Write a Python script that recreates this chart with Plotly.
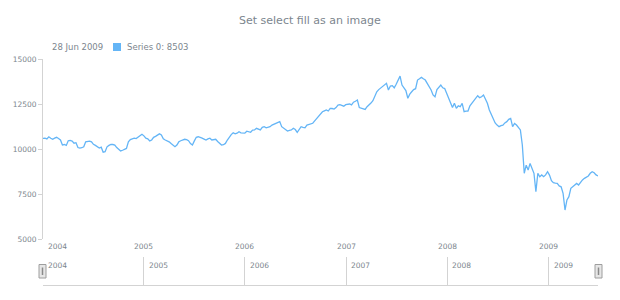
import pandas as pd
import plotly.graph_objects as go

# ---- data (weekly values) ----
values_2004 = [10594, 10600, 10560, 10680, 10600, 10540, 10600, 10650, 10580, 10500,
               10220, 10250, 10200, 10460, 10480, 10440, 10320, 10350, 10080, 10050,
               10070, 10120, 10400, 10420, 10440, 10400, 10260, 10200, 10130, 10050,
               10100, 9820, 9850, 10120, 10200, 10260, 10250, 10220, 10080, 10000,
               9890, 9930, 9960, 10030, 10400, 10520, 10560, 10600, 10580, 10650,
               10740, 10820]
values_2005 = [10730, 10600, 10560, 10450, 10500, 10650, 10700, 10750, 10840, 10780,
               10570, 10500, 10460, 10400, 10300, 10200, 10130, 10220, 10400, 10460,
               10500, 10540, 10520, 10460, 10300, 10220, 10450, 10650, 10680, 10620,
               10600, 10550, 10500, 10560, 10600, 10500, 10520, 10540, 10420, 10300,
               10220, 10240, 10310, 10500, 10690, 10800, 10900, 10840, 10880, 10960,
               10900, 10880]
values_2006 = [10880, 10990, 10950, 10930, 11050, 11060, 11150, 11100, 11060, 11200,
               11240, 11180, 11200, 11240, 11330, 11380, 11430, 11500, 11520, 11240,
               11150, 11100, 11000, 11040, 11060, 11150, 11080, 10930, 11100, 11240,
               11200, 11180, 11330, 11370, 11400, 11430, 11560, 11700, 11850, 11930,
               12070, 12120, 12170, 12110, 12260, 12250, 12220, 12300, 12440, 12460,
               12400, 12380]
values_2007 = [12460, 12480, 12500, 12450, 12600, 12650, 12720, 12300, 12280, 12260,
               12200, 12350, 12440, 12550, 12680, 12900, 13180, 13300, 13380, 13460,
               13560, 13650, 13280, 13500, 13520, 13400, 13600, 13850, 14050, 13550,
               13400, 13250, 12820, 13050, 13180, 13300, 13350, 13830, 13900, 13980,
               13900, 13830, 13650, 13500, 13280, 13000, 12900, 13300, 13460, 13550,
               13400, 13360]
values_2008 = [13100, 12800, 12540, 12300, 12540, 12260, 12400, 12350, 12540, 12070,
               12100, 12110, 12400, 12540, 12630, 12800, 12960, 12850, 12900, 13000,
               12800, 12540, 12170, 11950, 11700, 11450, 11330, 11240, 11300, 11330,
               11450, 11520, 11650, 11700, 11240, 11420, 11330, 11200, 11060, 10220,
               8650, 9100, 8830, 9200, 8900, 8650, 7630, 8650, 8460, 8560,
               8460, 8560]
values_2009 = [8740, 8550, 8240, 8130, 8100, 8090, 7950, 7900, 7540, 6610,
               7170, 7350, 7820, 7900, 8000, 8090, 8000, 8180, 8280, 8370,
               8460, 8500, 8650, 8740, 8680, 8560, 8503]

values = values_2004 + values_2005 + values_2006 + values_2007 + values_2008 + values_2009
last_date = "2009-06-28"
dates = pd.date_range(end=last_date, periods=len(values), freq="7D")

series_name = "Series 0"
title_text = "Set select fill as an image"
legend_date = "28 Jun 2009"
y_ticks = [5000, 7500, 10000, 12500, 15000]
year_ticks = ["2005-01-01", "2006-01-01", "2007-01-01", "2008-01-01", "2009-01-01"]
year_labels = ["2005", "2006", "2007", "2008", "2009"]
first_label = "2004"

# ---- style ----
LINE = "#64b5f6"
TXT = "#7c868e"
AX = "#d3d3d3"
FONT = "DejaVu Sans"

W, H = 620, 300
L, R, T, B = 43, 22, 59, 15
PW, PH = W - L - R, H - T - B


def px_x(p):
    return (p - L) / PW


def px_y(p):
    return (H - B - p) / PH


fig = go.Figure()
fig.add_trace(go.Scatter(x=dates, y=values, mode="lines", name=series_name,
                         line=dict(color=LINE, width=1.3), xaxis="x", yaxis="y",
                         hoverinfo="skip"))

x_range = [dates[0], dates[-1]]

fig.update_layout(
    width=W, height=H, autosize=False,
    margin=dict(l=L, r=R, t=T, b=B, pad=0),
    paper_bgcolor="white", plot_bgcolor="white",
    showlegend=False,
    font=dict(family=FONT, color=TXT, size=8),
    xaxis=dict(domain=[0, 1], range=x_range, type="date", anchor="y",
               showgrid=False, zeroline=False, showline=False,
               showticklabels=False, ticks="", automargin=False),
    yaxis=dict(domain=[px_y(239), 1], range=[5000, 15000], anchor="x",
               tickvals=y_ticks, ticktext=[str(v) for v in y_ticks],
               showgrid=False, zeroline=False, showline=True, linecolor=AX,
               linewidth=1, ticks="outside", ticklen=4, tickcolor=AX,
               tickfont=dict(size=7.5, color=TXT, family=FONT), automargin=False),
    xaxis2=dict(domain=[0, 1], range=x_range, type="date", anchor="y2",
                tickvals=[dates[0]] + year_ticks, showticklabels=False,
                showgrid=True, gridcolor=AX, gridwidth=1,
                zeroline=False, showline=True, linecolor=AX, linewidth=1,
                ticks="", automargin=False),
    yaxis2=dict(domain=[0, px_y(257)], range=[0, 1], anchor="x2",
                showgrid=False, zeroline=False, showline=False,
                showticklabels=False, ticks="", automargin=False),
)

ann = []
# title
ann.append(dict(text=title_text, xref="paper", yref="paper", x=px_x(310), y=px_y(20),
                xanchor="center", yanchor="middle", showarrow=False,
                font=dict(size=11, color=TXT, family=FONT)))
# legend
ann.append(dict(text=legend_date, xref="paper", yref="paper", x=px_x(50), y=px_y(47),
                xanchor="left", yanchor="middle", showarrow=False,
                font=dict(size=8.5, color=TXT, family=FONT)))
ann.append(dict(text=f"{series_name}: {values[-1]}", xref="paper", yref="paper",
                x=px_x(125), y=px_y(47), xanchor="left", yanchor="middle",
                showarrow=False, font=dict(size=8.5, color=TXT, family=FONT)))
# main x labels
ann.append(dict(text=first_label, xref="x", yref="paper", x=dates[0], y=px_y(246.5),
                xanchor="left", yanchor="middle", xshift=3, showarrow=False,
                font=dict(size=7.5, color=TXT, family=FONT)))
for tv, tl in zip(year_ticks, year_labels):
    ann.append(dict(text=tl, xref="x", yref="paper", x=tv, y=px_y(246.5),
                    xanchor="center", yanchor="middle", showarrow=False,
                    font=dict(size=7.5, color=TXT, family=FONT)))
# scroller labels
ann.append(dict(text=first_label, xref="x2", yref="paper", x=dates[0], y=px_y(265),
                xanchor="left", yanchor="middle", xshift=3, showarrow=False,
                font=dict(size=7.5, color=TXT, family=FONT)))
for tv, tl in zip(year_ticks, year_labels):
    ann.append(dict(text=tl, xref="x2", yref="paper", x=tv, y=px_y(265),
                    xanchor="left", yanchor="middle", xshift=3, showarrow=False,
                    font=dict(size=7.5, color=TXT, family=FONT)))
fig.update_layout(annotations=ann)

shapes = []
# legend swatch
shapes.append(dict(type="rect", xref="paper", yref="paper",
                   x0=px_x(113), x1=px_x(121), y0=px_y(51), y1=px_y(43),
                   fillcolor=LINE, line=dict(width=0)))
# scroller handles
for cx in (42.5, 598.5):
    shapes.append(dict(type="rect", xref="paper", yref="paper",
                       x0=px_x(cx - 3.5), x1=px_x(cx + 3.5), y0=px_y(278), y1=px_y(264.5),
                       fillcolor="#e6e6e6", line=dict(color="#9e9e9e", width=1)))
    shapes.append(dict(type="line", xref="paper", yref="paper",
                       x0=px_x(cx), x1=px_x(cx), y0=px_y(275), y1=px_y(267.5),
                       line=dict(color="#8a8a8a", width=1.5)))
fig.update_layout(shapes=shapes)

fig.write_html("out.html")
